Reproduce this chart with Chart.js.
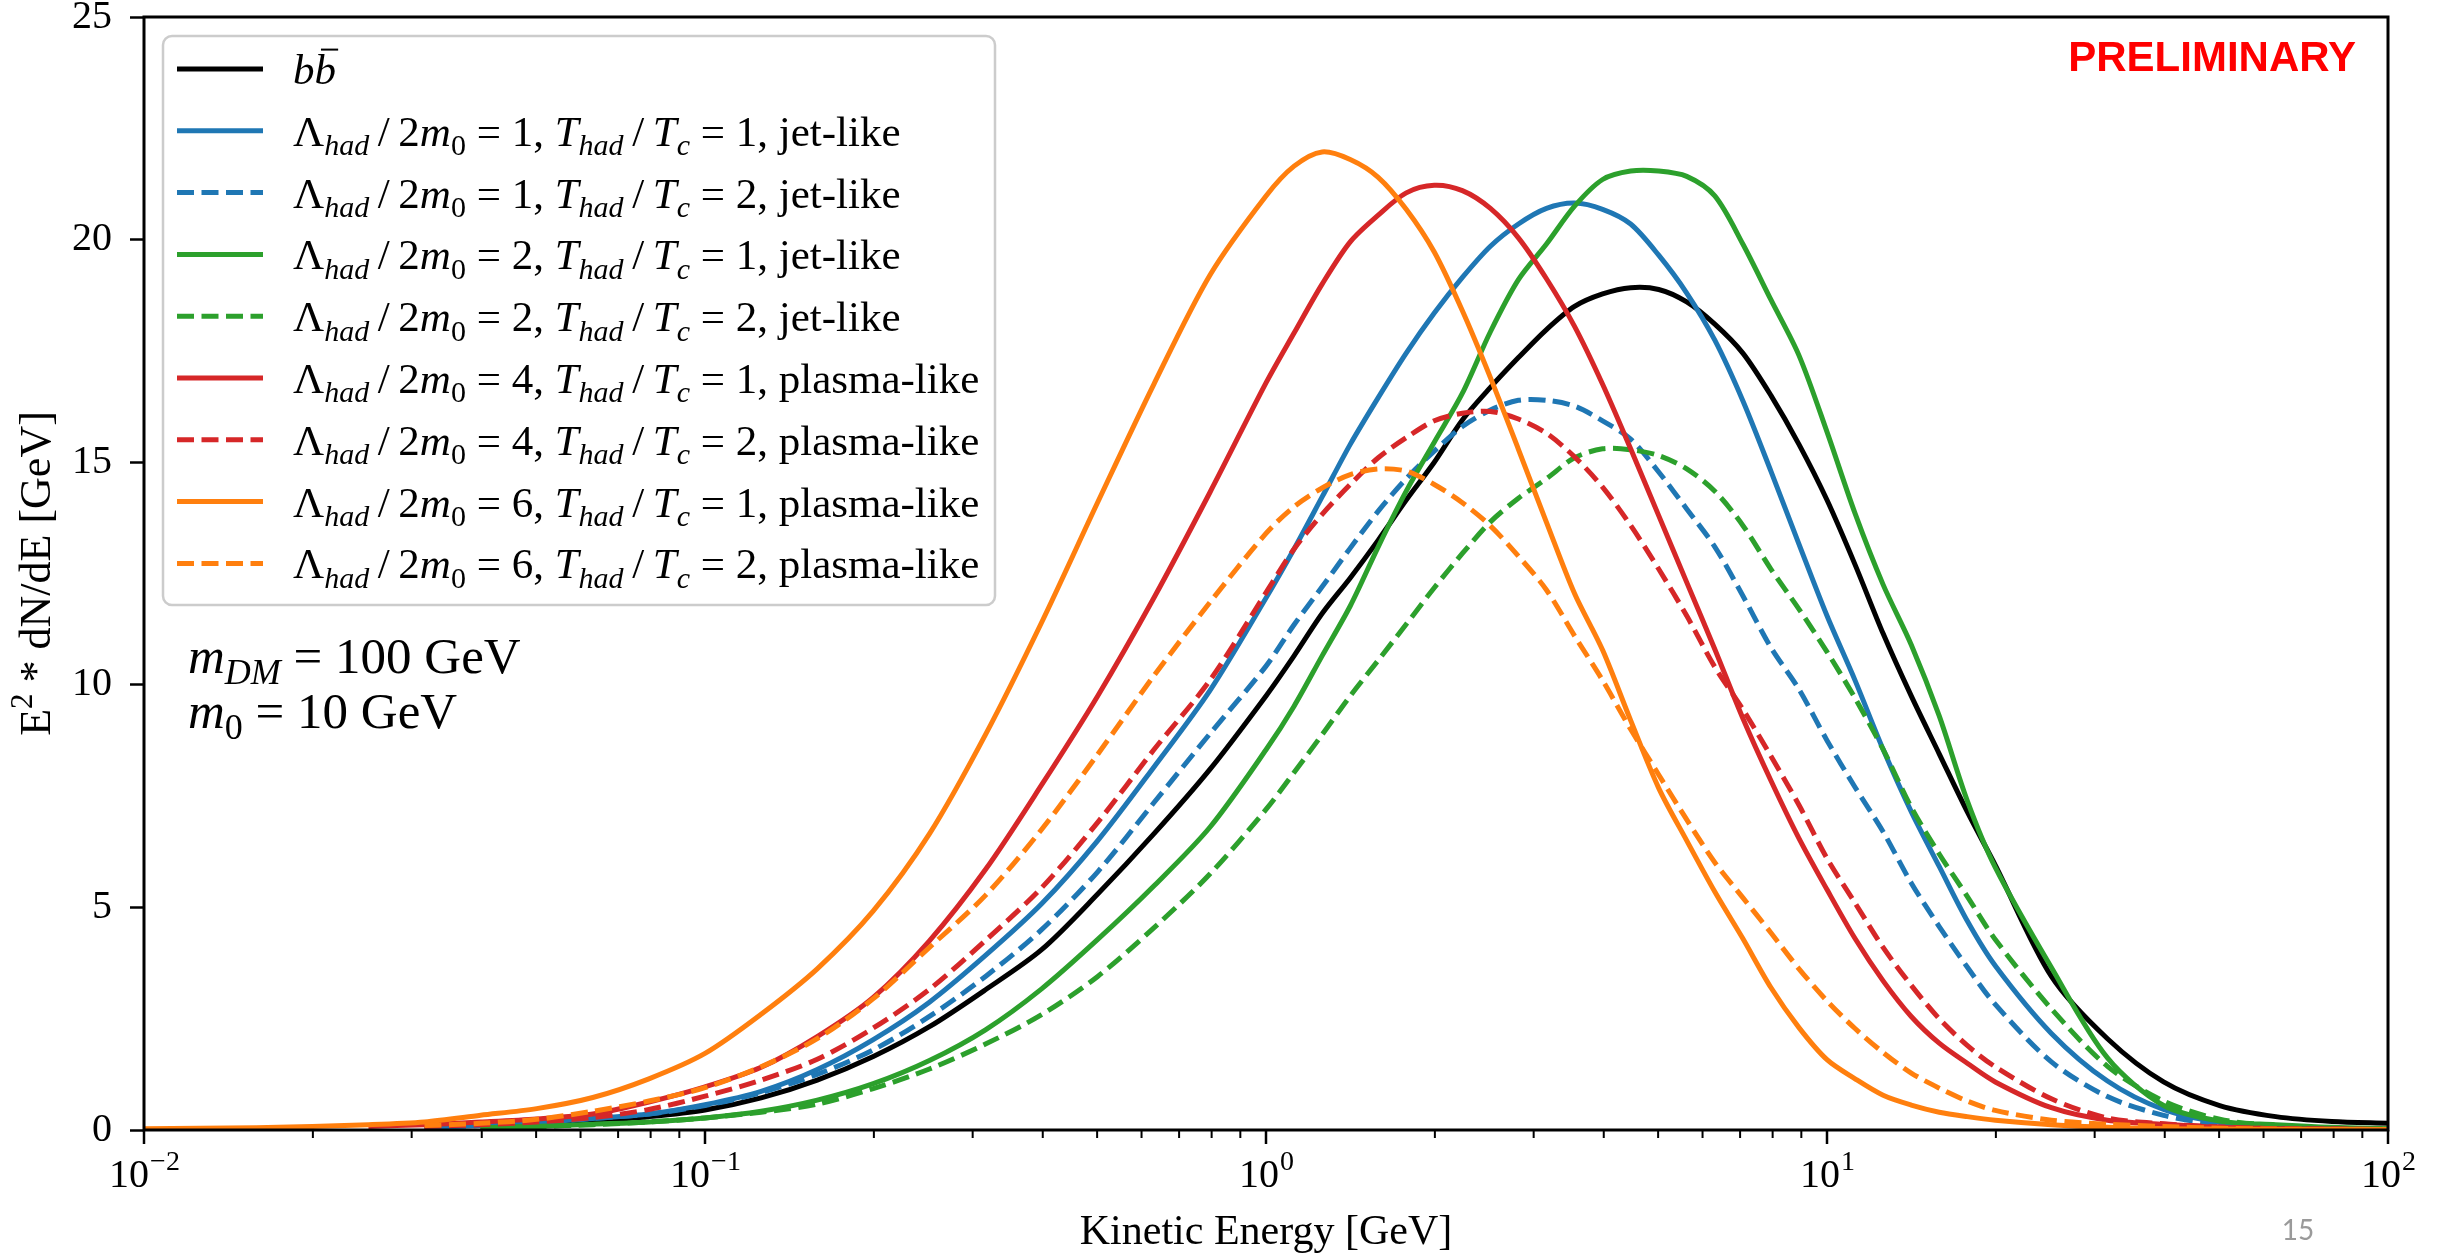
<!DOCTYPE html>
<html>
<head>
<meta charset="utf-8">
<title>Kinetic energy spectra</title>
<script src="https://cdn.jsdelivr.net/npm/chart.js@4.4.0/dist/chart.umd.min.js"></script>
<style>
  html, body { margin: 0; padding: 0; background: #fff; }
  #wrap { width: 2451px; height: 1257px; }
</style>
</head>
<body>
<div id="wrap"><canvas id="chart" width="2451" height="1257"></canvas></div>
<script>
/* ── Data ──────────────────────────────────────────────────────────────── */
// kinetic energy grid [GeV]
const ENERGY = [
  0.01, 0.01585, 0.02512, 0.03162, 0.03981, 0.05012, 0.0631, 0.07943,
  0.1, 0.1259, 0.1585, 0.1995, 0.2512, 0.3162, 0.3981, 0.5012, 0.631, 0.7943,
  1, 1.122, 1.259, 1.413, 1.585, 1.778, 1.995, 2.239, 2.512, 2.818, 3.162, 3.548,
  3.981, 4.467, 5.012, 5.623, 6.31, 7.079, 7.943, 8.913,
  10, 11.22, 12.59, 14.13, 15.85, 17.78, 19.95, 25.12, 31.62, 39.81, 50.12, 63.1, 79.43, 100,
];

// E^2 dN/dE [GeV]
const BB = [null, null, null, null, 0.07, 0.12, 0.2, 0.3,
  0.45, 0.72, 1.12, 1.65, 2.32, 3.15, 4.05, 5.3, 6.65, 8.1,
  9.75, 10.65, 11.6, 12.4, 13.25, 14.15, 15.0, 15.95, 16.68, 17.35, 17.98, 18.5,
  18.78, 18.92, 18.88, 18.6, 18.1, 17.45, 16.5, 15.4,
  14.15, 12.7, 11.15, 9.75, 8.45, 7.15, 5.95, 3.45, 2.05, 1.08, 0.55, 0.3, 0.19, 0.15];
const L1_T1 = [null, null, null, 0.06, 0.1, 0.16, 0.26, 0.36,
  0.57, 0.87, 1.36, 2.03, 2.87, 3.92, 5.08, 6.5, 8.15, 9.87,
  11.95, 13.05, 14.22, 15.4, 16.45, 17.45, 18.35, 19.15, 19.85, 20.35, 20.7, 20.82,
  20.68, 20.35, 19.65, 18.8, 17.74, 16.38, 14.8, 13.16,
  11.55, 10.1, 8.55, 7.15, 5.92, 4.7, 3.69, 2.17, 1.1, 0.46, 0.17, 0.06, 0.03, 0.01];
const L1_T2 = [null, null, null, 0.06, 0.1, 0.16, 0.26, 0.36,
  0.55, 0.84, 1.25, 1.8, 2.55, 3.45, 4.5, 5.8, 7.35, 8.9,
  10.42, 11.35, 12.2, 13.07, 13.9, 14.63, 15.25, 15.8, 16.17, 16.39, 16.39, 16.26,
  15.93, 15.52, 14.78, 13.95, 13.1, 12.0, 10.84, 9.9,
  8.75, 7.7, 6.7, 5.55, 4.57, 3.66, 2.82, 1.53, 0.75, 0.33, 0.12, 0.05, 0.02, 0.01];
const L2_T1 = [null, null, null, null, 0.05, 0.08, 0.13, 0.18,
  0.27, 0.42, 0.67, 1.04, 1.56, 2.25, 3.17, 4.28, 5.48, 6.8,
  8.54, 9.52, 10.65, 11.77, 13.1, 14.35, 15.45, 16.55, 17.93, 19.1, 19.9, 20.75,
  21.35, 21.54, 21.54, 21.42, 20.98, 19.9, 18.65, 17.4,
  15.68, 13.85, 12.25, 10.9, 9.3, 7.4, 5.9, 3.65, 1.62, 0.55, 0.2, 0.12, 0.06, 0.03];
const L2_T2 = [null, null, null, null, 0.05, 0.08, 0.12, 0.18,
  0.27, 0.4, 0.58, 0.93, 1.37, 1.93, 2.59, 3.45, 4.54, 5.75,
  7.2, 8.03, 8.88, 9.75, 10.55, 11.36, 12.18, 12.95, 13.66, 14.19, 14.63, 15.1,
  15.3, 15.28, 15.15, 14.85, 14.35, 13.58, 12.6, 11.7,
  10.74, 9.7, 8.55, 7.25, 6.2, 5.25, 4.28, 2.72, 1.43, 0.65, 0.24, 0.1, 0.04, 0.02];
const L4_T1 = [null, null, 0.08, 0.12, 0.18, 0.25, 0.36, 0.63,
  0.97, 1.41, 2.1, 2.98, 4.25, 5.85, 7.75, 9.75, 11.95, 14.32,
  16.78, 17.9, 19.0, 19.95, 20.55, 21.05, 21.22, 21.1, 20.7, 20.04, 19.12, 18.05,
  16.75, 15.3, 13.8, 12.3, 10.8, 9.25, 7.85, 6.55,
  5.4, 4.3, 3.35, 2.55, 1.95, 1.5, 1.08, 0.5, 0.22, 0.13, 0.06, 0.03, 0.02, 0.01];
const L4_T2 = [null, null, null, 0.08, 0.12, 0.18, 0.28, 0.46,
  0.76, 1.12, 1.59, 2.29, 3.16, 4.26, 5.44, 6.91, 8.54, 10.1,
  12.07, 13.05, 13.83, 14.5, 15.1, 15.55, 15.93, 16.1, 16.14, 15.97, 15.65, 15.12,
  14.44, 13.58, 12.6, 11.55, 10.4, 9.45, 8.4, 7.3,
  6.1, 5.1, 4.1, 3.25, 2.5, 1.9, 1.42, 0.7, 0.27, 0.14, 0.07, 0.03, 0.02, 0.01];
const L6_T1 = [0.03, 0.05, 0.12, 0.18, 0.33, 0.48, 0.73, 1.15,
  1.72, 2.6, 3.62, 4.92, 6.65, 8.88, 11.4, 14.1, 16.75, 19.2,
  20.98, 21.65, 21.97, 21.8, 21.4, 20.68, 19.72, 18.4, 16.9, 15.29, 13.65, 12.05,
  10.78, 9.2, 7.68, 6.5, 5.35, 4.3, 3.2, 2.3,
  1.58, 1.15, 0.78, 0.56, 0.4, 0.3, 0.22, 0.12, 0.06, 0.03, 0.02, 0.01, 0.01, 0.01];
const L6_T2 = [null, null, null, 0.1, 0.15, 0.24, 0.42, 0.65,
  0.95, 1.42, 2.05, 2.95, 4.1, 5.27, 6.75, 8.44, 10.2, 11.85,
  13.4, 14.0, 14.42, 14.72, 14.85, 14.8, 14.5, 14.09, 13.57, 12.89, 12.13, 11.1,
  10.1, 9.0, 7.98, 6.97, 6.01, 5.22, 4.43, 3.62,
  2.9, 2.28, 1.74, 1.28, 0.94, 0.65, 0.44, 0.22, 0.13, 0.08, 0.04, 0.02, 0.01, 0.01];

// legend labels: ~x~ italic, _{x} italic subscript, _[x] upright subscript, ‾{x} italic with bar
const SERIES_LABELS = [
  '~b~‾{b}',
  'Λ_{had}\u2009/\u20092~m~_[0] = 1, ~T~_{had}\u2009/\u2009~T~_{c} = 1, jet-like',
  'Λ_{had}\u2009/\u20092~m~_[0] = 1, ~T~_{had}\u2009/\u2009~T~_{c} = 2, jet-like',
  'Λ_{had}\u2009/\u20092~m~_[0] = 2, ~T~_{had}\u2009/\u2009~T~_{c} = 1, jet-like',
  'Λ_{had}\u2009/\u20092~m~_[0] = 2, ~T~_{had}\u2009/\u2009~T~_{c} = 2, jet-like',
  'Λ_{had}\u2009/\u20092~m~_[0] = 4, ~T~_{had}\u2009/\u2009~T~_{c} = 1, plasma-like',
  'Λ_{had}\u2009/\u20092~m~_[0] = 4, ~T~_{had}\u2009/\u2009~T~_{c} = 2, plasma-like',
  'Λ_{had}\u2009/\u20092~m~_[0] = 6, ~T~_{had}\u2009/\u2009~T~_{c} = 1, plasma-like',
  'Λ_{had}\u2009/\u20092~m~_[0] = 6, ~T~_{had}\u2009/\u2009~T~_{c} = 2, plasma-like',
];
const NOTE_LINES = ['~m~_{DM} = 100 GeV', '~m~_[0] = 10 GeV'];
const X_DECADES = [0.01, 0.1, 1, 10, 100];
const X_EXPONENTS = ['−2', '−1', '0', '1', '2'];
const X_TITLE = 'Kinetic Energy [GeV]';
const Y_TITLE = 'E^[2] * dN/dE [GeV]';

/* ── Styling ───────────────────────────────────────────────────────────── */
const SERIF = '"Liberation Serif", "Times New Roman", serif';
const BLUE = '#1f77b4', ORANGE = '#ff7f0e', GREEN = '#2ca02c', RED = '#d62728';
const DASH = [17, 7.5];
const LW = 5;

const SERIES = [
  { values: BB,    color: '#000000', dash: [] },
  { values: L1_T1, color: BLUE,      dash: [] },
  { values: L1_T2, color: BLUE,      dash: DASH },
  { values: L2_T1, color: GREEN,     dash: [] },
  { values: L2_T2, color: GREEN,     dash: DASH },
  { values: L4_T1, color: RED,       dash: [] },
  { values: L4_T2, color: RED,       dash: DASH },
  { values: L6_T1, color: ORANGE,    dash: [] },
  { values: L6_T2, color: ORANGE,    dash: DASH },
];

/* ── Rich text helper (italics / sub / sup) ────────────────────────────── */
function parseRich(s) {
  const out = [];
  const re = /~([^~]+)~|_\{([^}]+)\}|_\[([^\]]+)\]|\^\[([^\]]+)\]|‾\{([^}]+)\}|([^~_^‾]+)/g;
  let m;
  while ((m = re.exec(s))) {
    if (m[1])      out.push({ t: m[1], it: true });
    else if (m[2]) out.push({ t: m[2], it: true, sub: true });
    else if (m[3]) out.push({ t: m[3], sub: true });
    else if (m[4]) out.push({ t: m[4], sup: true });
    else if (m[5]) out.push({ t: m[5], it: true, bar: true });
    else           out.push({ t: m[6] });
  }
  return out;
}

function fontFor(r, size) {
  const fs = (r.sub || r.sup) ? Math.round(size * 0.7) : size;
  return `${r.it ? 'italic ' : ''}${fs}px ${SERIF}`;
}

function drawRich(ctx, s, x, y, size, align) {
  const runs = parseRich(s);
  const widths = runs.map(r => { ctx.font = fontFor(r, size); return ctx.measureText(r.t).width; });
  const total = widths.reduce((a, b) => a + b, 0);
  let cx = align === 'center' ? x - total / 2 : align === 'right' ? x - total : x;
  ctx.textAlign = 'left';
  ctx.textBaseline = 'alphabetic';
  runs.forEach((r, i) => {
    ctx.font = fontFor(r, size);
    const dy = r.sub ? size * 0.22 : r.sup ? -size * 0.4 : 0;
    ctx.fillText(r.t, cx, y + dy);
    if (r.bar) {
      ctx.save();
      ctx.strokeStyle = ctx.fillStyle;
      ctx.lineWidth = 2;
      ctx.beginPath();
      ctx.moveTo(cx + widths[i] * 0.3, y - size * 0.8);
      ctx.lineTo(cx + widths[i] * 1.1, y - size * 0.8);
      ctx.stroke();
      ctx.restore();
    }
    cx += widths[i];
  });
  return total;
}

/* ── Decorations: spines, log ticks, titles, legend, notes ─────────────── */
const paperPlugin = {
  id: 'paper',
  afterDraw(chart) {
    const { ctx, chartArea: a } = chart;
    const xs = chart.scales.x;
    ctx.save();

    // spines
    ctx.strokeStyle = '#000';
    ctx.lineWidth = 3;
    ctx.setLineDash([]);
    ctx.strokeRect(a.left, a.top, a.right - a.left, a.bottom - a.top);

    // x ticks (major + minor)
    const tick = (px, len, w) => {
      ctx.lineWidth = w;
      ctx.beginPath();
      ctx.moveTo(px, a.bottom);
      ctx.lineTo(px, a.bottom + len);
      ctx.stroke();
    };
    X_DECADES.forEach((v, i) => {
      const px = xs.getPixelForValue(v);
      tick(px, 14, 2.5);
      if (i < X_DECADES.length - 1) {
        for (let k = 2; k <= 9; k++) tick(xs.getPixelForValue(k * v), 8, 2);
      }
      // label 10^n
      ctx.fillStyle = '#000';
      ctx.font = `40px ${SERIF}`;
      const w10 = ctx.measureText('10').width;
      ctx.font = `28px ${SERIF}`;
      const we = ctx.measureText(X_EXPONENTS[i]).width;
      const start = px - (w10 + we) / 2;
      ctx.textAlign = 'left';
      ctx.textBaseline = 'alphabetic';
      ctx.font = `40px ${SERIF}`;
      ctx.fillText('10', start, 1187);
      ctx.font = `28px ${SERIF}`;
      ctx.fillText(X_EXPONENTS[i], start + w10 + 1, 1170);
    });

    // axis titles
    ctx.fillStyle = '#000';
    drawRich(ctx, X_TITLE, (a.left + a.right) / 2, 1244, 42, 'center');
    ctx.save();
    ctx.translate(50, (a.top + a.bottom) / 2);
    ctx.rotate(-Math.PI / 2);
    drawRich(ctx, Y_TITLE, 0, 0, 44, 'center');
    ctx.restore();

    // legend
    ctx.beginPath();
    ctx.roundRect(163, 36, 832, 569, 9);
    ctx.fillStyle = 'rgba(255,255,255,0.8)';
    ctx.fill();
    ctx.strokeStyle = '#cccccc';
    ctx.lineWidth = 2.5;
    ctx.stroke();
    chart.data.datasets.forEach((ds, i) => {
      const cy = 69 + i * 61.8;
      ctx.strokeStyle = ds.borderColor;
      ctx.lineWidth = ds.borderWidth;
      ctx.setLineDash(ds.borderDash || []);
      ctx.beginPath();
      ctx.moveTo(177, cy);
      ctx.lineTo(263, cy);
      ctx.stroke();
      ctx.setLineDash([]);
      ctx.fillStyle = '#000';
      drawRich(ctx, ds.label, 293, cy + 15, 43);
    });

    // parameter note
    ctx.fillStyle = '#000';
    drawRich(ctx, NOTE_LINES[0], 188, 673, 51);
    drawRich(ctx, NOTE_LINES[1], 188, 728, 51);

    // PRELIMINARY stamp
    ctx.fillStyle = '#ff0000';
    ctx.font = 'bold 42px "Liberation Sans", Arial, sans-serif';
    ctx.textAlign = 'right';
    ctx.fillText('PRELIMINARY', 2356, 71);

    // slide number
    ctx.fillStyle = '#9a9a9a';
    ctx.font = '28px Lato, "Open Sans", sans-serif';
    ctx.textAlign = 'center';
    ctx.fillText('15', 2298, 1240);

    ctx.restore();
  },
};

/* ── Chart ─────────────────────────────────────────────────────────────── */
const datasets = SERIES.map((s, i) => ({
  label: SERIES_LABELS[i],
  data: ENERGY.map((e, k) => ({ x: e, y: s.values[k] })),
  borderColor: s.color,
  backgroundColor: s.color,
  borderWidth: LW,
  borderDash: s.dash,
  pointRadius: 0,
  fill: false,
  tension: 0.3,
  order: SERIES.length - i,
}));

new Chart(document.getElementById('chart').getContext('2d'), {
  type: 'line',
  data: { datasets },
  options: {
    responsive: false,
    devicePixelRatio: 1,
    animation: false,
    layout: { padding: { top: 17, right: 63, left: 0, bottom: 0 } },
    plugins: { legend: { display: false }, tooltip: { enabled: false } },
    scales: {
      x: {
        type: 'logarithmic',
        min: 0.01,
        max: 100,
        ticks: { display: false },
        grid: { display: false },
        border: { display: false },
        afterFit: s => { s.height = 127; s.paddingLeft = 0; s.paddingRight = 0; },
      },
      y: {
        min: 0,
        max: 25,
        ticks: { stepSize: 5, color: '#000', padding: 18, font: { family: SERIF, size: 40 } },
        grid: { drawOnChartArea: false, drawTicks: true, tickLength: 14, tickWidth: 2.5, tickColor: '#000' },
        border: { display: false },
        afterFit: s => { s.width = 144; s.paddingTop = 0; s.paddingBottom = 0; },
      },
    },
  },
  plugins: [paperPlugin],
});
</script>
</body>
</html>
